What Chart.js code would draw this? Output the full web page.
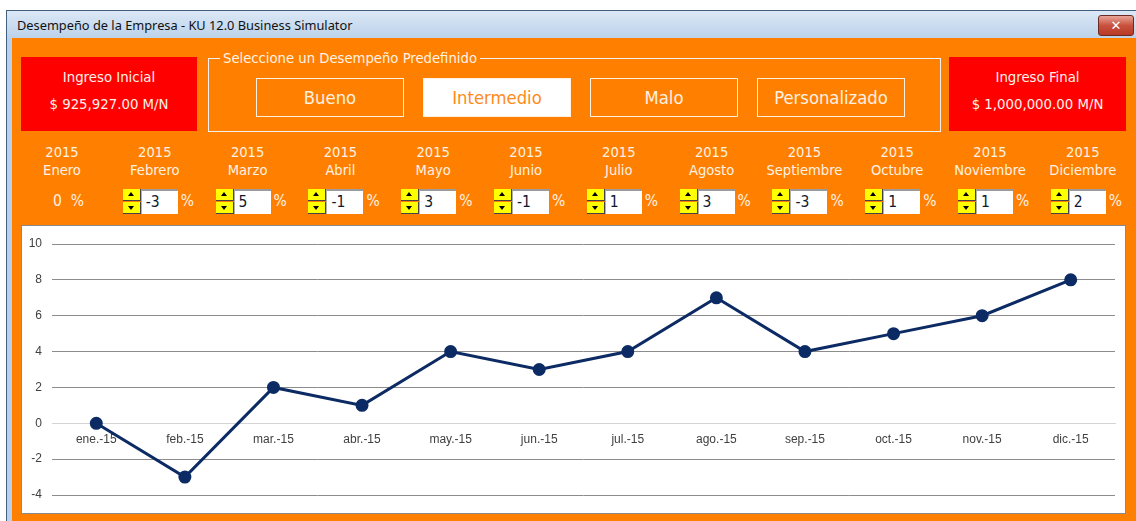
<!DOCTYPE html>
<html>
<head>
<meta charset="utf-8">
<script src="https://cdn.jsdelivr.net/npm/chart.js@4/dist/chart.umd.min.js"></script>
<style>
  body { margin: 0; width: 1136px; height: 521px; background: #fff; overflow: hidden; position: relative; font-family: "DejaVu Sans Condensed", "DejaVu Sans", sans-serif; }
  .abs { position: absolute; }
  #frame { left: 6px; top: 10px; width: 1140px; height: 520px; background: #b9d1ea; border-left: 1px solid #44607f; border-top: 1px solid #44607f; }
  #titlebar { left: 7px; top: 11px; width: 1140px; height: 27px; background: linear-gradient(#dbe8f6, #bcd2ea); }
  #title { left: 17px; top: 16px; font: 12.8px "Noto Sans", sans-serif; color: #111; }
  #close { left: 1098px; top: 15px; width: 34px; height: 19px; border: 1px solid #6d2a22; border-radius: 3px; background: linear-gradient(#e8a598, #c8523e 50%, #b83a26); color: #fff; font: bold 13px "DejaVu Sans", sans-serif; text-align: center; line-height: 19px; }
  #body { left: 12px; top: 38px; width: 1130px; height: 490px; background: #ff8000; }
  .red { background: #ff0000; color: #fff0ea; text-align: center; font-size: 14.8px; }
  .red div { position: absolute; left: 0; width: 100%; }
  #grupo { left: 208px; top: 58px; width: 731px; height: 72px; border: 1px solid #f2f2f2; }
  #grupoLbl { left: 220px; top: 49px; padding: 0 3px; background: #ff8000; color: #fff3e6; font-size: 14.7px; }
  .btn { width: 146px; height: 37px; border: 1px solid #fff0e0; color: #fff0e2; font-size: 18.3px; text-align: center; line-height: 38px; top: 78px; }
  .btn.sel { background: #fff; color: #ff8a1a; }
  .mes { width: 120px; text-align: center; color: #fff2e4; font-size: 14.6px; line-height: 18px; top: 143px; }
  .spin { width: 18px; height: 12px; background: #ffff00; border-right: 1px solid #444; border-bottom: 1px solid #444; box-sizing: border-box; }
  .spin::after { content: ""; position: absolute; left: 5px; border-left: 3.5px solid transparent; border-right: 3.5px solid transparent; }
  .spin.up::after { top: 3px; border-bottom: 4px solid #000; }
  .spin.dn::after { top: 4px; border-top: 4px solid #000; }
  .txt { width: 37px; height: 25px; background: #fff; border-top: 2px solid #9a9a9a; border-left: 1px solid #b0b0b0; box-sizing: border-box; font: 15.5px "DejaVu Sans Condensed", "DejaVu Sans", sans-serif; color: #101830; padding-left: 4px; line-height: 22px; }
  .pct { color: #fff2e4; font-size: 15.5px; top: 192px; }
  #chartBox { left: 21px; top: 225px; width: 1103px; height: 287px; background: #fff; border: 1px solid #8a8a8a; }
</style>
</head>
<body>
<div id="frame" class="abs"></div>
<div id="titlebar" class="abs"></div>
<div id="title" class="abs">Desempeño de la Empresa - KU 12.0 Business Simulator</div>
<div id="close" class="abs">✕</div>
<div id="body" class="abs"></div>

<div class="abs red" style="left:21px;top:57px;width:176px;height:74px;">
  <div style="top:11px;">Ingreso Inicial</div>
  <div style="top:38px;">$ 925,927.00 M/N</div>
</div>
<div class="abs red" style="left:949px;top:57px;width:177px;height:74px;">
  <div style="top:11px;">Ingreso Final</div>
  <div style="top:38px;">$ 1,000,000.00 M/N</div>
</div>

<div id="grupo" class="abs"></div>
<div id="grupoLbl" class="abs">Seleccione un Desempeño Predefinido</div>
<div id="botones"></div>
<div id="meses"></div>

<div id="chartBox" class="abs">
  <canvas id="desempenoChart" width="1103" height="287"></canvas>
</div>

<script>
// Botones de desempeño predefinido
const opciones = ['Bueno', 'Intermedio', 'Malo', 'Personalizado'];
const seleccion = 'Intermedio';

// Controles por mes
const anio = '2015';
const meses = ['Enero', 'Febrero', 'Marzo', 'Abril', 'Mayo', 'Junio', 'Julio', 'Agosto', 'Septiembre', 'Octubre', 'Noviembre', 'Diciembre'];
const variaciones = [0, -3, 5, -1, 3, -1, 1, 3, -3, 1, 1, 2];

// Datos de la gráfica
const etiquetas = ['ene.-15', 'feb.-15', 'mar.-15', 'abr.-15', 'may.-15', 'jun.-15', 'jul.-15', 'ago.-15', 'sep.-15', 'oct.-15', 'nov.-15', 'dic.-15'];
const desempeno = [0, -3, 2, 1, 4, 3, 4, 7, 4, 5, 6, 8];

// Dibujar botones
const cajaBotones = document.getElementById('botones');
opciones.forEach((op, i) => {
  const b = document.createElement('div');
  b.className = 'abs btn' + (op === seleccion ? ' sel' : '');
  b.style.left = (256 + i * 167) + 'px';
  b.textContent = op;
  cajaBotones.appendChild(b);
});

// Dibujar columnas de meses
const cajaMeses = document.getElementById('meses');
meses.forEach((m, i) => {
  const cx = 62 + i * 92.8;
  const lbl = document.createElement('div');
  lbl.className = 'abs mes';
  lbl.style.left = (cx - 60) + 'px';
  lbl.innerHTML = anio + '<br>' + m;
  cajaMeses.appendChild(lbl);

  if (i === 0) {
    const cero = document.createElement('div');
    cero.className = 'abs pct';
    cero.style.left = (cx - 9) + 'px';
    cero.innerHTML = variaciones[0] + '&nbsp; %';
    cajaMeses.appendChild(cero);
    return;
  }
  const up = document.createElement('div');
  up.className = 'abs spin up';
  up.style.left = (cx - 32) + 'px';
  up.style.top = '189px';
  const dn = document.createElement('div');
  dn.className = 'abs spin dn';
  dn.style.left = (cx - 32) + 'px';
  dn.style.top = '202px';
  const txt = document.createElement('div');
  txt.className = 'abs txt';
  txt.style.left = (cx - 14) + 'px';
  txt.style.top = '189px';
  txt.textContent = variaciones[i];
  const pct = document.createElement('div');
  pct.className = 'abs pct';
  pct.style.left = (cx + 26) + 'px';
  pct.textContent = '%';
  cajaMeses.append(up, dn, txt, pct);
});

// Gráfica
const ctx = document.getElementById('desempenoChart').getContext('2d');
const desempenoChart = new Chart(ctx, {
  type: 'line',
  data: {
    labels: etiquetas,
    datasets: [{
      data: desempeno,
      borderColor: '#0c2a63',
      backgroundColor: '#0c2a63',
      borderWidth: 3,
      pointRadius: 5,
      pointHoverRadius: 5,
      tension: 0
    }]
  },
  options: {
    responsive: false,
    animation: false,
    layout: { padding: { left: 0, right: 10, top: 18, bottom: 18 } },
    plugins: { legend: { display: false }, tooltip: { enabled: false } },
    scales: {
      x: {
        position: { y: 0 },
        offset: true,
        grid: { display: false, drawTicks: false },
        border: { display: true, color: '#d4d4d4', width: 1, dash: [2, 2] },
        ticks: { padding: 9, maxRotation: 0, autoSkip: false, color: '#404040', font: { family: 'Liberation Sans', size: 12 } }
      },
      y: {
        min: -4,
        max: 10,
        afterFit: (s) => { s.width = 30; },
        grid: {
          drawTicks: false,
          color: (c) => c.tick && c.tick.value === 0 ? 'rgba(0,0,0,0)' : '#8c8c8c'
        },
        border: { display: false },
        ticks: { stepSize: 2, padding: 10, color: '#404040', font: { family: 'Liberation Sans', size: 12 } }
      }
    }
  }
});
</script>
</body>
</html>
